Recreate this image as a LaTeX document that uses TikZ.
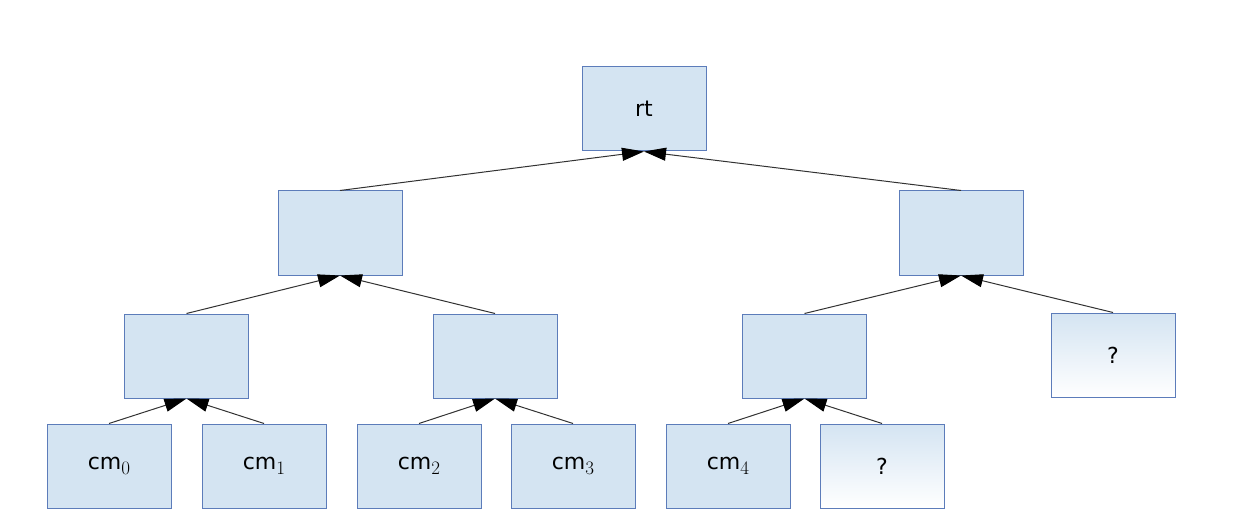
\documentclass[tikz,border=0pt]{standalone}
\usepackage{fontspec}
\setsansfont{DejaVu Sans}
\usetikzlibrary{arrows.meta}
\definecolor{boxfill}{RGB}{212,228,242}
\definecolor{boxdraw}{RGB}{92,124,186}
\definecolor{linecol}{RGB}{50,50,50}
\newcommand{\cmsub}[1]{cm\raisebox{-5pt}{\rmfamily\fontsize{19pt}{21pt}\selectfont #1}}
\tikzset{
  box/.style={draw=boxdraw, fill=boxfill, line width=1pt, minimum width=124pt, minimum height=84pt, inner sep=0pt, font=\sffamily\fontsize{22pt}{26pt}\selectfont},
  gbox/.style={box, fill=none, top color=boxfill, bottom color=white},
  conn/.style={draw=linecol, line width=1pt, -{Triangle[length=22pt,width=13pt,color=black]}}
}
\begin{document}
\begin{tikzpicture}[x=1pt,y=-1pt]
\useasboundingbox (0,0) rectangle (1233,529);
\node[box] (rt) at (644,109) {rt};
\node[box] (l) at (340,233) {};
\node[box] (r) at (961,233) {};
\node[box] (a) at (186.5,356) {};
\node[box] (b) at (495,356) {};
\node[box] (c) at (804.5,356) {};
\node[gbox] (q1) at (1113,355) {?};
\node[box] (cm0) at (109,466) {\cmsub{0}};
\node[box] (cm1) at (264,466) {\cmsub{1}};
\node[box] (cm2) at (419,466) {\cmsub{2}};
\node[box] (cm3) at (573,466) {\cmsub{3}};
\node[box] (cm4) at (728,466) {\cmsub{4}};
\node[gbox] (q2) at (882,466) {?};
\draw[conn] (l.north) -- (rt.south);
\draw[conn] (r.north) -- (rt.south);
\draw[conn] (a.north) -- (l.south);
\draw[conn] (b.north) -- (l.south);
\draw[conn] (c.north) -- (r.south);
\draw[conn] (q1.north) -- (r.south);
\draw[conn] (cm0.north) -- (a.south);
\draw[conn] (cm1.north) -- (a.south);
\draw[conn] (cm2.north) -- (b.south);
\draw[conn] (cm3.north) -- (b.south);
\draw[conn] (cm4.north) -- (c.south);
\draw[conn] (q2.north) -- (c.south);
\end{tikzpicture}
\end{document}
